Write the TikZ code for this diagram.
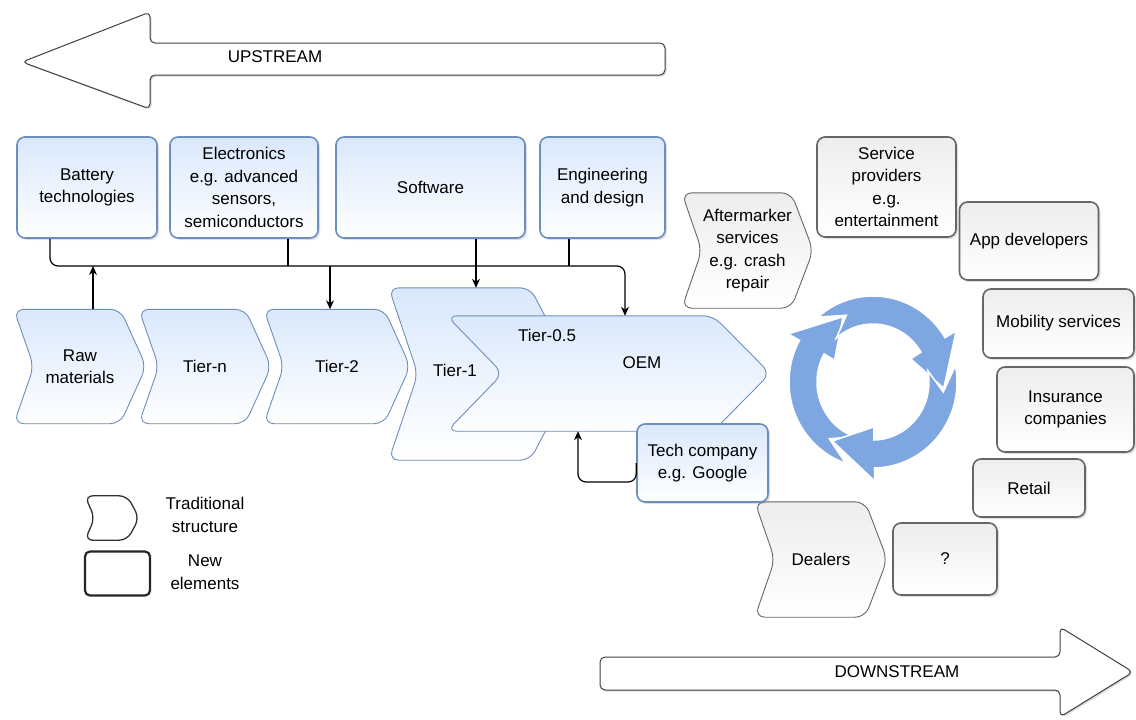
\documentclass[tikz,border=0pt]{standalone}
\usepackage{fontspec}
\setmainfont{Liberation Sans}
\usetikzlibrary{arrows.meta,shadows,backgrounds}

\definecolor{boxblue}{HTML}{6C8EBF}
\definecolor{fillblue}{HTML}{DAE8FC}
\definecolor{loopblue}{HTML}{7EA6E0}

% chevron outline behind a named frame node: style, node, notch, tip
\newcommand\chevron[4]{%
  \begin{pgfonlayer}{background}
    \path[#1] (#2.north) -- ([xshift=-#4]#2.north east) -- (#2.east)
      -- ([xshift=-#4]#2.south east) -- (#2.south west)
      -- ([xshift=#3]#2.west) -- (#2.north west) -- cycle;
  \end{pgfonlayer}}

\tikzset{
  newbox/.style={draw=boxblue, line width=1.6pt, rounded corners=8pt,
    top color=fillblue, bottom color=white,
    drop shadow={opacity=0.25, shadow xshift=2pt, shadow yshift=-2pt}},
  graybox/.style={draw=black!60, line width=1.6pt, rounded corners=8pt,
    top color=black!7, bottom color=white,
    drop shadow={opacity=0.25, shadow xshift=2pt, shadow yshift=-2pt}},
  chevframe/.style={inner sep=0pt},
  bluechev/.style={draw=boxblue, line width=0.9pt, rounded corners=10pt,
    top color=fillblue, bottom color=white},
  graychev/.style={draw=black!60, line width=0.9pt, rounded corners=10pt,
    top color=black!7, bottom color=white},
  legchev/.style={draw=black!80, line width=1.3pt, rounded corners=8pt, fill=white},
  stream/.style={draw=black!75, line width=1pt, fill=white, rounded corners=5pt,
    drop shadow={opacity=0.3, shadow xshift=1.5pt, shadow yshift=-1.5pt}},
  conn/.style={line width=1.2pt},
  arr/.style={conn, -{Stealth[length=9pt,width=8pt]}},
  loopfill/.style={fill=loopblue, draw=white, line width=1.5pt, line join=miter},
}

\begin{document}
\begin{tikzpicture}[x=1pt, y=-1pt,
  every node/.style={font=\fontsize{17}{22.5}\selectfont, align=center, inner sep=0pt}]

\useasboundingbox (0,0) rectangle (1136,720);

% direction arrows
\path[stream] (400,43) -- (150,43) -- (150,12) -- (22,62) -- (150,109)
  -- (150,75) -- (665,75) -- (665,43) -- cycle;
\node (up) at (275,57) {UPSTREAM};
\path[stream] (800,657) -- (1060,657) -- (1060,627) -- (1133,672) -- (1060,717)
  -- (1060,690) -- (600,690) -- (600,657) -- cycle;
\node (down) at (897,672) {DOWNSTREAM};

% new suppliers
\node[newbox, minimum width=140pt, minimum height=101pt] (bat)  at (87,187.5)  {Battery\\technologies};
\node[newbox, minimum width=148pt, minimum height=101pt] (elec) at (244,187.5) {Electronics\\e.g. advanced\\sensors,\\semiconductors};
\node[newbox, minimum width=189pt, minimum height=101pt] (sw)   at (430.5,187.5) {Software};
\node[newbox, minimum width=125pt, minimum height=101pt] (eng)  at (602.5,187.5) {Engineering\\and design};

% traditional chain
\node[chevframe, minimum width=132pt, minimum height=114pt] (raw)   at (80,366.5)  {Raw\\materials};
\chevron{bluechev}{raw}{20pt}{26pt}
\node[chevframe, minimum width=132pt, minimum height=114pt] (tiern) at (205,366.5) {Tier-n};
\chevron{bluechev}{tiern}{20pt}{26pt}
\node[chevframe, minimum width=146pt, minimum height=114pt] (tier2) at (337,366.5) {Tier-2};
\chevron{bluechev}{tier2}{20pt}{26pt}
\node[chevframe, minimum width=186pt, minimum height=172pt] (tier1) at (482,374)   {};
\chevron{bluechev}{tier1}{29pt}{45pt}
\node (t1txt) at (455,370) {Tier-1};
\node[chevframe, minimum width=323pt, minimum height=115pt] (oem)   at (608.5,373.5) {};
\chevron{bluechev}{oem}{56pt}{57pt}
\node (t05)    at (547,335) {Tier-0.5};
\node (oemtxt) at (642,363) {OEM};

\node[newbox, minimum width=131pt, minimum height=78pt] (tech) at (702.5,463) {Tech company\\e.g. Google};

% downstream players
\node[chevframe, minimum width=131pt, minimum height=115pt] (after)   at (747.5,250.5) {Aftermarker\\services\\e.g. crash\\repair};
\chevron{graychev}{after}{20pt}{22pt}
\node[chevframe, minimum width=132pt, minimum height=115pt] (dealers) at (821,559.5) {Dealers};
\chevron{graychev}{dealers}{20pt}{22pt}

\node[graybox, minimum width=139pt, minimum height=100pt] (serv)   at (886.5,187)  {Service\\providers\\e.g.\\entertainment};
\node[graybox, minimum width=139pt, minimum height=78pt]  (app)    at (1029,241)   {App developers};
\node[graybox, minimum width=151pt, minimum height=69pt]  (mob)    at (1058.5,323.5) {Mobility services};
\node[graybox, minimum width=137pt, minimum height=85pt]  (ins)    at (1065.5,409.5) {Insurance\\companies};
\node[graybox, minimum width=112pt, minimum height=58pt]  (retail) at (1029,488)   {Retail};
\node[graybox, minimum width=104pt, minimum height=72pt]  (unk)    at (945,559)    {?};

% feedback loop, three arrows running clockwise
\foreach \t in {-115,5,125}{
  \pgfmathsetmacro\ta{\t-136}
  \pgfmathsetmacro\tb{\t-36}
  \pgfmathsetmacro\tn{\t-117}
  \filldraw[loopfill] plot[domain=\ta:\tb, samples=30] ({873+84*cos(\x)},{382+86*sin(\x)})
    -- ({873+97*cos(\tb)},{382+99*sin(\tb)})
    -- ({873+71*cos(\t)},{382+72*sin(\t)})
    -- ({873+44*cos(\tb)},{382+45*sin(\tb)})
    -- plot[domain=\tb:\ta, samples=30] ({873+56*cos(\x)},{382+58*sin(\x)})
    -- ({873+71*cos(\tn)},{382+72*sin(\tn)})
    -- cycle;
}

% supplier bus
\coordinate (bBat) at (50,266);
\coordinate (bRaw) at (93,266);
\coordinate (bEl)  at (288,266);
\coordinate (bT2)  at (330,266);
\coordinate (bSw)  at (476,266);
\coordinate (bEng) at (569,266);
\coordinate (bOem) at (625,266);
\coordinate (fb)   at (578,482);

\draw[arr, rounded corners=8pt] (bBat |- bat.south) -- (bBat) -- (bOem) -- (bOem |- oem.north);
\draw[conn] (bEl |- elec.south) -- (bEl);
\draw[conn] (bEng |- eng.south) -- (bEng);
\draw[arr] (bRaw |- raw.north) -- (bRaw);
\draw[arr] (bT2) -- (bT2 |- tier2.north);
\draw[arr] (bSw |- sw.south) -- (bSw |- tier1.north);
\draw[arr, rounded corners=8pt] (tech.west) -- (tech.west |- fb) -- (fb) -- (fb |- oem.south);

% legend
\node[chevframe, minimum width=54pt, minimum height=44pt] (legtrad) at (112,518) {};
\chevron{legchev}{legtrad}{10pt}{12pt}
\node[draw=black!85, line width=2.2pt, rounded corners=5pt,
  minimum width=65pt, minimum height=44pt] (legnew) at (117.5,573.5) {};
\node (legtradtxt) at (205,515) {Traditional\\structure};
\node (legnewtxt)  at (205,572) {New\\elements};

\end{tikzpicture}
\end{document}
